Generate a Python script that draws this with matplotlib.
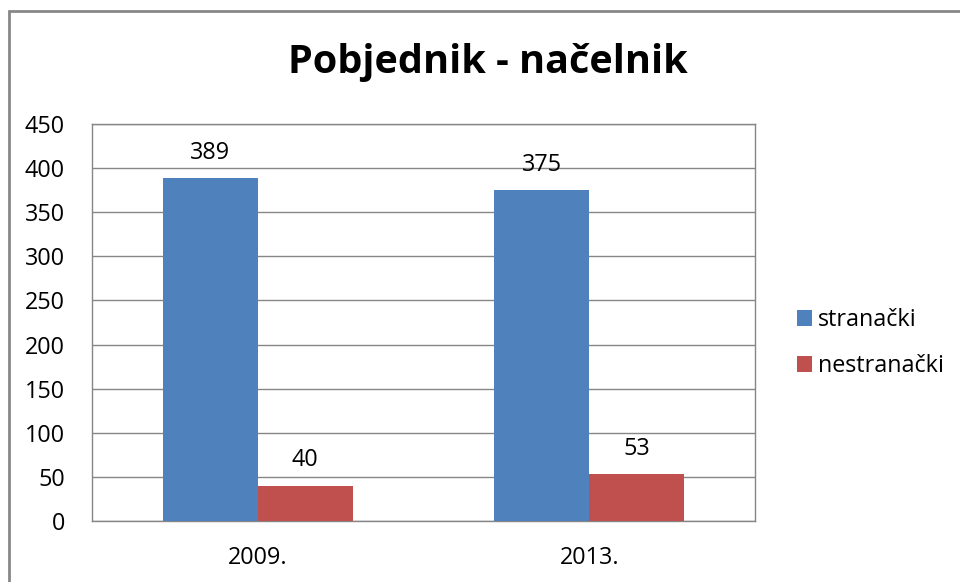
import matplotlib
matplotlib.use("Agg")
import matplotlib.pyplot as plt
from matplotlib.patches import Rectangle
import numpy as np

categories = ["2009.", "2013."]
series_names = ["stranački", "nestranački"]
stranacki = [389, 375]
nestranacki = [40, 53]
colors = ["#4F81BD", "#C0504D"]

plt.rcParams['font.family'] = ['Open Sans', 'DejaVu Sans']

fig = plt.figure(figsize=(9.6, 5.82), dpi=100)
W, H = 960, 582
ax = fig.add_axes([92 / W, 1 - 521 / H, (755 - 92) / W, (521 - 124) / H])

fs = 16.8
x = np.arange(len(categories))
bw = 0.2866
b1 = ax.bar(x - bw / 2, stranacki, bw, color=colors[0], label=series_names[0], zorder=3)
b2 = ax.bar(x + bw / 2, nestranacki, bw, color=colors[1], label=series_names[1], zorder=3)
for bars in (b1, b2):
    for r in bars:
        ax.text(r.get_x() + r.get_width() / 2, r.get_height() + 15, f"{int(r.get_height())}",
                ha="center", va="bottom", fontsize=fs, color="#000000")

ax.set_xlim(-0.5, 1.5)
ax.set_ylim(0, 450)
ax.set_yticks(np.arange(0, 451, 50))
ax.set_xticks(x)
ax.set_xticklabels(categories)
ax.tick_params(axis="both", length=0, labelsize=fs, colors="#000000")
ax.tick_params(axis="y", pad=19.5)
ax.tick_params(axis="x", pad=18)
ax.yaxis.grid(True, color="#868686", linewidth=1, zorder=0)
ax.set_axisbelow(True)
for s in ax.spines.values():
    s.set_color("#868686")
    s.set_linewidth(1)

fig.text(0.5 + 8 / W, 1 - 62 / H, "Pobjednik - načelnik", ha="center", va="center",
         fontsize=28.5, fontweight="bold")

leg = fig.legend(loc="center left", bbox_to_anchor=(776 / W, 1 - 343 / H), frameon=False,
                 fontsize=fs, handlelength=0.65, handleheight=0.65, handletextpad=0.25,
                 labelspacing=0.95)

fig.add_artist(Rectangle((9 / W, -0.1), 2, 1 - 11 / H + 0.1, transform=fig.transFigure,
                         fill=False, edgecolor="#888888", linewidth=2))

fig.savefig("out.png", dpi=100, facecolor="white")
